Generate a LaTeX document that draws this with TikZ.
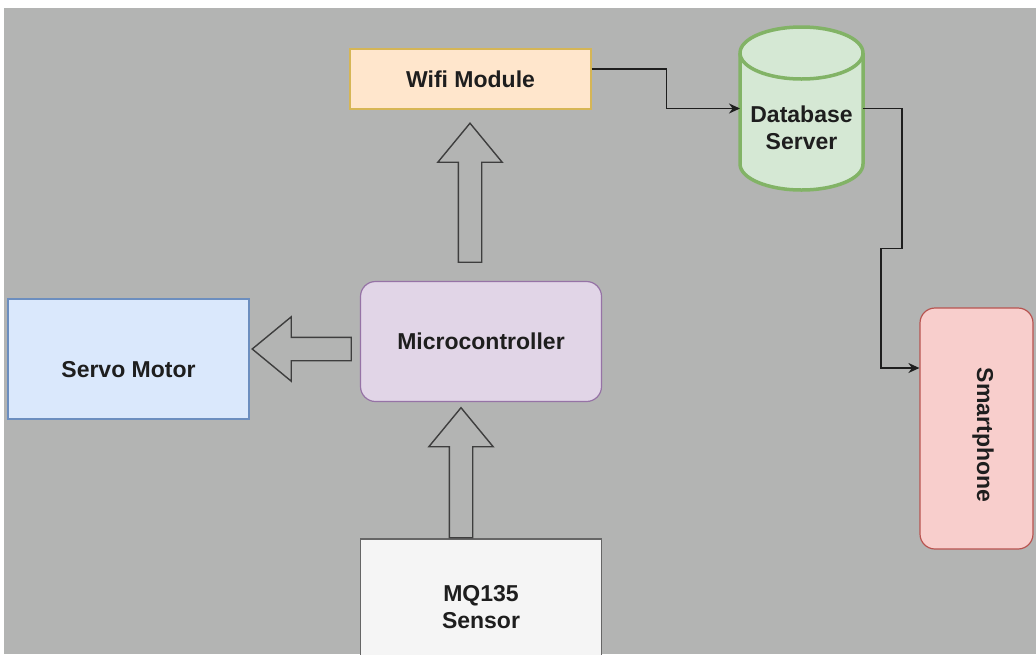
\documentclass[tikz,border=0pt]{standalone}
\usepackage{fontspec}
\setmainfont{Liberation Sans}
\usetikzlibrary{shapes.arrows,arrows.meta,positioning}

\definecolor{canvas}{RGB}{179,180,179}
\definecolor{ink}{RGB}{30,30,30}
\definecolor{hollow}{RGB}{62,62,62}
\definecolor{wififill}{HTML}{FFE6CC}
\definecolor{wifiline}{HTML}{D6B656}
\definecolor{dbfill}{HTML}{D5E8D4}
\definecolor{dbline}{HTML}{82B366}
\definecolor{servofill}{HTML}{DAE8FC}
\definecolor{servoline}{HTML}{6C8EBF}
\definecolor{mcufill}{HTML}{E1D5E7}
\definecolor{mculine}{HTML}{9673A6}
\definecolor{phonefill}{HTML}{F8CECC}
\definecolor{phoneline}{HTML}{B85450}
\definecolor{sensorfill}{HTML}{F5F5F5}
\definecolor{sensorline}{HTML}{666666}

\begin{document}
\begin{tikzpicture}[x=1pt,y=-1pt]
		\tikzstyle{txt}=[font=\fontsize{23}{27}\selectfont\bfseries, text=ink, align=center]
		\tikzstyle{main}=[rectangle, txt, line width=1.2pt, minimum width=241pt, minimum height=120pt]
		\tikzstyle{connect}=[line width=1.7pt, draw=ink, -{Stealth[length=11pt,width=10pt]}]
		\tikzstyle{bigarrow}=[single arrow, draw=hollow, line width=1.4pt, minimum width=63pt, single arrow head extend=20.5pt, single arrow tip angle=79, inner sep=0pt, inner ysep=11pt]
		\tikzstyle{drum}=[fill=dbfill, draw=dbline, line width=3.5pt]
		\useasboundingbox (0,0) rectangle (1036,654);
		\clip (0,0) rectangle (1036,654);
		\fill[white] (0,0) rectangle (1036,654);
		\fill[canvas] (4,8) rectangle (1036,654);

		\node[main, fill=wififill, draw=wifiline, minimum height=60pt]  (wifi)   at (470.5,79)  {Wifi Module};
		\node[main, fill=mcufill, draw=mculine, rounded corners=15pt]   (mcu)    at (481,341.5) {Microcontroller};
		\node[main, fill=servofill, draw=servoline,
			label={[txt, yshift=-11pt]center:Servo Motor}]              (servo)  at (128.5,359) {};
		\node[main, fill=sensorfill, draw=sensorline, minimum height=136pt] (sensor) at (481,607) {MQ135\\Sensor};
		\node[main, fill=phonefill, draw=phoneline, rounded corners=15pt,
			minimum width=113pt, minimum height=241pt,
			label={[txt, xshift=6.5pt, yshift=-6.5pt, rotate=-90]center:Smartphone}] (phone) at (976.5,428.5) {};

		% database drum: body, bottom rim and the front of the lid
		\node[rectangle, minimum width=123pt, minimum height=163pt, inner sep=0pt, outer sep=0pt] (db) at (801.5,108.5) {};
		\filldraw[drum] ([yshift=-26pt]db.north west) -- ([yshift=26pt]db.south west)
			arc[start angle=180, end angle=360, x radius=61.5pt, y radius=26pt]
			-- ([yshift=-26pt]db.north east)
			arc[start angle=0, end angle=180, x radius=61.5pt, y radius=26pt] -- cycle;
		\draw[drum, fill=none] ([yshift=-26pt]db.north west)
			arc[start angle=180, end angle=360, x radius=61.5pt, y radius=26pt];
		\node[txt] (dbtext) at ([yshift=-19pt]db.center) {Database\\Server};

		% hollow data arrows between the blocks
		\node[bigarrow, rotate=90, anchor=tail, minimum height=130pt]  (up1)   at ([xshift=-20pt]sensor.north) {};
		\node[bigarrow, rotate=90, anchor=tail, minimum height=139pt]  (up2)   at ([xshift=-11pt,yshift=18pt]mcu.north) {};
		\node[bigarrow, rotate=180, anchor=tail, minimum height=99pt]  (left1) at ([xshift=-8pt,yshift=-7.5pt]mcu.west) {};

		% wireless links
		\draw[connect] ([yshift=10pt]wifi.east) -- ++(75,0) |- (db.west);
		\draw[connect] (db.east) -- ++(39,0) -- ++(0,140) -- ++(-21,0) |- ([yshift=60.5pt]phone.west);
\end{tikzpicture}
\end{document}
